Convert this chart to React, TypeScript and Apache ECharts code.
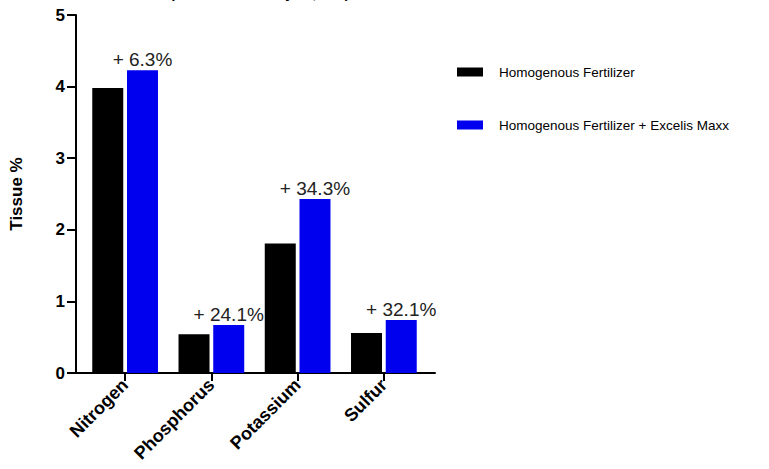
import React, { useEffect, useRef } from "react";
import * as echarts from "echarts";

const categories = ["Nitrogen", "Phosphorus", "Potassium", "Sulfur"];
const seriesNames = ["Homogenous Fertilizer", "Homogenous Fertilizer + Excelis Maxx"];
const baseValues = [3.98, 0.54, 1.81, 0.56];
const maxxValues = [4.23, 0.67, 2.43, 0.74];
const pctLabels = ["+ 6.3%", "+ 24.1%", "+ 34.3%", "+ 32.1%"];
const yTicks = { min: 0, max: 5, interval: 1 };
const titleText = "(Leaf Tissue Analysis, n=4)";

const FONT = "Liberation Sans, Arial, sans-serif";

export default function App() {
  const ref = useRef<HTMLDivElement>(null);
  useEffect(() => {
    if (!ref.current) return;
    const chart = echarts.init(ref.current, null, { renderer: "svg" });
    chart.setOption({
      animation: false,
      backgroundColor: "#fff",
      title: {
        text: titleText,
        left: 170,
        top: -14,
        padding: 0,
        textStyle: { fontFamily: FONT, fontSize: 14, fontWeight: "bold", color: "#000" },
      },
      legend: {
        orient: "vertical",
        left: 452,
        top: 60,
        itemWidth: 26,
        itemHeight: 9,
        itemGap: 39,
        icon: "rect",
        data: seriesNames,
        textStyle: { fontFamily: FONT, fontSize: 13.5, color: "#000", padding: [0, 0, 0, 11] },
      },
      grid: [
        { left: 82, width: 345, top: 15, height: 358 },
        { left: 76, width: 359, top: 15, height: 358 },
      ],
      xAxis: [
        {
          type: "category",
          gridIndex: 0,
          data: categories,
          axisLine: { show: false },
          axisTick: { show: true, alignWithLabel: true, length: 8, lineStyle: { color: "#000", width: 2 } },
          axisLabel: {
            rotate: 45,
            margin: 9,
            fontFamily: FONT,
            fontSize: 18,
            fontWeight: "bold",
            color: "#000",
          },
        },
        {
          type: "value",
          gridIndex: 1,
          min: 0,
          max: 1,
          axisLine: { show: true, lineStyle: { color: "#000", width: 2 } },
          axisTick: { show: false },
          axisLabel: { show: false },
          splitLine: { show: false },
        },
      ],
      yAxis: [
        {
          type: "value",
          gridIndex: 0,
          min: yTicks.min,
          max: yTicks.max,
          interval: yTicks.interval,
          show: false,
        },
        {
          type: "value",
          gridIndex: 1,
          min: yTicks.min,
          max: yTicks.max,
          interval: yTicks.interval,
          name: "Tissue %",
          nameLocation: "middle",
          nameGap: 51,
          nameTextStyle: { fontFamily: FONT, fontSize: 17, fontWeight: "bold", color: "#000" },
          axisLine: { show: true, lineStyle: { color: "#000", width: 2 } },
          axisTick: { show: true, inside: false, length: 9, lineStyle: { color: "#000", width: 2 } },
          axisLabel: { margin: 11, fontFamily: FONT, fontSize: 17, fontWeight: "bold", color: "#000" },
          splitLine: { show: false },
        },
      ],
      series: [
        {
          name: seriesNames[0],
          type: "bar",
          xAxisIndex: 0,
          yAxisIndex: 0,
          data: baseValues,
          barWidth: 31,
          barGap: "12%",
          itemStyle: { color: "#000000" },
        },
        {
          name: seriesNames[1],
          type: "bar",
          xAxisIndex: 0,
          yAxisIndex: 0,
          data: maxxValues,
          barWidth: 31,
          itemStyle: { color: "#0000ee" },
          label: {
            show: true,
            position: "top",
            distance: 1,
            formatter: (p: any) => pctLabels[p.dataIndex],
            fontFamily: FONT,
            fontSize: 19,
            color: "#222",
          },
        },
      ],
    });
    return () => chart.dispose();
  }, []);
  return (
    <div
      ref={ref}
      style={{ position: "absolute", left: 0, top: 0, width: 769, height: 469 }}
    />
  );
}
